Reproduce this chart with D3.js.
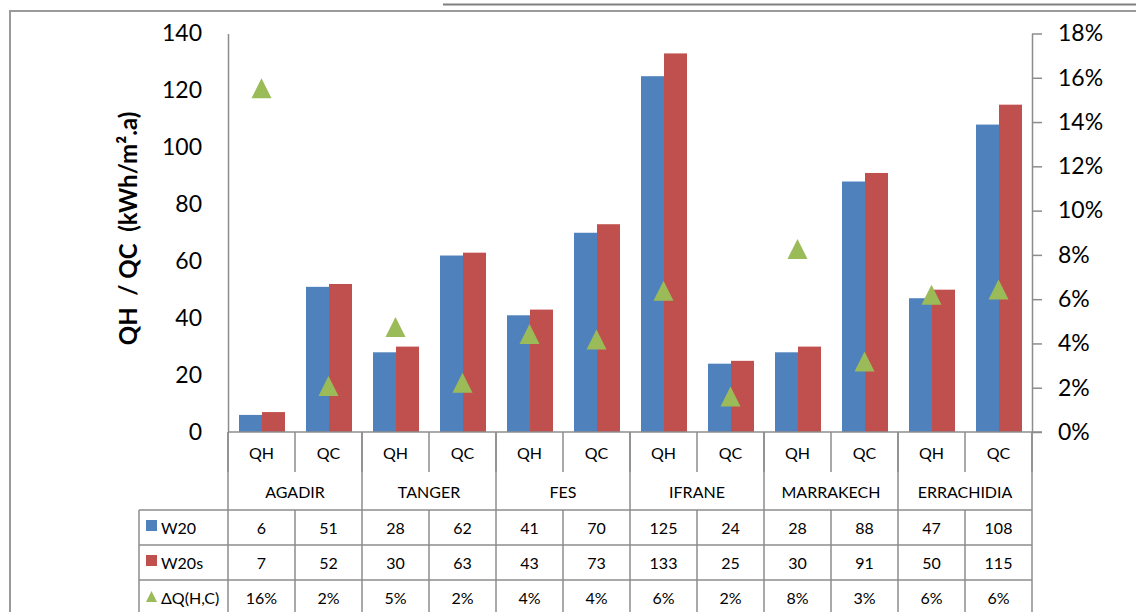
<!DOCTYPE html>
<html>
<head>
<meta charset="utf-8">
<script src="https://cdn.jsdelivr.net/npm/d3@7"></script>
<style>
  html, body { margin: 0; padding: 0; background: #fff; }
  svg { display: block; font-family: Lato, "Open Sans", sans-serif; }
</style>
</head>
<body>
<svg id="chart" width="1136" height="612"></svg>
<script>
// ---- data ----
const cities = ["AGADIR", "TANGER", "FES", "IFRANE", "MARRAKECH", "ERRACHIDIA"];
const loads = ["QH", "QC"];
const seriesNames = ["W20", "W20s"];
const w20 = [6, 51, 28, 62, 41, 70, 125, 24, 28, 88, 47, 108];
const w20s = [7, 52, 30, 63, 43, 73, 133, 25, 30, 91, 50, 115];
const deltaQ = [0.1553, 0.0208, 0.0474, 0.0222, 0.0443, 0.0418, 0.0638, 0.016, 0.0827, 0.0318, 0.062, 0.0644];
const deltaName = "ΔQ(H,C)";
const leftTicks = [0, 20, 40, 60, 80, 100, 120, 140];
const rightTicks = [0, 0.02, 0.04, 0.06, 0.08, 0.10, 0.12, 0.14, 0.16, 0.18];
const yTitle = "QH  / QC  (kWh/m².a)";

// ---- layout ----
const svg = d3.select("#chart");
const W = 1136, H = 612;
const plotL = 228, plotR = 1032, plotT = 33.5, plotB = 432;
const grey = "#8c8c8c";
const blue = "#4f81bd", red = "#c0504d", green = "#9bbb59";
const fontTick = 23, fontTable = 16;

const keys = cities.flatMap(c => loads.map(l => c + "|" + l));
const rows = keys.map((k, i) => ({ key: k, city: k.split("|")[0], load: k.split("|")[1], w20: w20[i], w20s: w20s[i], dq: deltaQ[i] }));

const x = d3.scaleBand().domain(keys).range([plotL, plotR]).padding(0);
const xc = d3.scaleBand().domain(cities).range([plotL, plotR]).padding(0);
const bw = x.bandwidth();
const barW = 23;
const xs = d3.scaleBand().domain(seriesNames).range([(bw - 2 * barW) / 2 + 0.5, (bw + 2 * barW) / 2 + 0.5]);
const y = d3.scaleLinear().domain([0, 140]).range([plotB, plotT]);
const y2 = d3.scaleLinear().domain([0, 0.18]).range([plotB, plotT]);
const pct = d3.format(".0%");

// outer frame & top line
svg.append("rect").attr("x", 10).attr("y", 11).attr("width", W + 20).attr("height", H + 20)
  .attr("fill", "none").attr("stroke", "#9a9a9a").attr("stroke-width", 2);
svg.append("line").attr("x1", 443).attr("x2", W + 5).attr("y1", 4.5).attr("y2", 4.5)
  .attr("stroke", "#808080").attr("stroke-width", 2);

// bars
const gBars = svg.append("g");
const colors = { W20: blue, W20s: red };
rows.forEach(r => {
  seriesNames.forEach(s => {
    const v = s === "W20" ? r.w20 : r.w20s;
    gBars.append("rect")
      .attr("x", x(r.key) + xs(s))
      .attr("width", xs.bandwidth())
      .attr("y", y(v))
      .attr("height", y(0) - y(v))
      .attr("fill", colors[s]);
  });
});

// left axis
const axL = svg.append("g").attr("transform", `translate(${plotL},0)`)
  .call(d3.axisLeft(y).tickValues(leftTicks).tickSize(0).tickSizeOuter(0).tickPadding(26));
axL.select(".domain").attr("stroke", grey).attr("stroke-width", 1.5);
axL.selectAll("text").attr("font-size", fontTick).attr("font-family", "Lato, sans-serif").attr("fill", "#000");

// right axis
const axR = svg.append("g").attr("transform", `translate(${plotR},0)`)
  .call(d3.axisRight(y2).tickValues(rightTicks).tickSize(10).tickSizeOuter(0).tickPadding(16).tickFormat(pct));
axR.select(".domain").attr("stroke", grey).attr("stroke-width", 1.5);
axR.selectAll(".tick line").attr("stroke", grey).attr("stroke-width", 1.5);
axR.selectAll("text").attr("font-size", fontTick).attr("font-family", "Lato, sans-serif").attr("fill", "#000");

// y title
svg.append("text")
  .attr("transform", `translate(137,${(105 + 352) / 2}) rotate(-90)`)
  .attr("text-anchor", "middle")
  .attr("font-size", 24).attr("font-weight", "bold")
  .style("white-space", "pre")
  .text(yTitle);

// triangles
const tri = "M0,-10L10,10L-10,10Z";
svg.append("g").selectAll("path").data(rows).join("path")
  .attr("d", tri)
  .attr("transform", d => `translate(${x(d.key) + bw / 2},${y2(d.dq)})`)
  .attr("fill", green);

// ---- table ----
const gT = svg.append("g");
const line = (x1, y1, x2, y2_) => gT.append("line").attr("x1", x1).attr("y1", y1).attr("x2", x2).attr("y2", y2_)
  .attr("stroke", grey).attr("stroke-width", 1.5);

const rowLoad = [plotB, 472];
const rowCity = [472, 510];
const dataRows = [510, 545, 580, 615];
const legL = 139;

// horizontal category axis line
line(plotL, plotB, plotR + 10, plotB);
// load-row dividers
keys.forEach(k => line(x(k), rowLoad[0], x(k), rowLoad[1]));
line(plotR, rowLoad[0], plotR, rowLoad[1]);
// city dividers
cities.forEach(c => line(xc(c), plotB, xc(c), dataRows[0]));
line(plotR, plotB, plotR, dataRows[0]);
// data table lines
dataRows.slice(0, 3).forEach(yy => line(legL, yy, plotR, yy));
keys.forEach(k => line(x(k), dataRows[0], x(k), H + 5));
line(plotR, dataRows[0], plotR, H + 5);
line(legL, dataRows[0], legL, H + 5);

// load labels
gT.selectAll("text.load").data(rows).join("text").attr("class", "load")
  .attr("x", d => x(d.key) + bw / 2).attr("y", (rowLoad[0] + rowLoad[1]) / 2)
  .attr("text-anchor", "middle").attr("dominant-baseline", "central")
  .attr("font-size", fontTable).text(d => d.load);
// city labels
gT.selectAll("text.city").data(cities).join("text").attr("class", "city")
  .attr("x", d => xc(d) + xc.bandwidth() / 2).attr("y", (rowCity[0] + rowCity[1]) / 2)
  .attr("text-anchor", "middle").attr("dominant-baseline", "central")
  .attr("font-size", fontTable).text(d => d);

// data rows
const tableSeries = [
  { name: "W20", vals: w20, fmt: d => d, sym: "rect", color: blue },
  { name: "W20s", vals: w20s, fmt: d => d, sym: "rect", color: red },
  { name: deltaName, vals: deltaQ, fmt: pct, sym: "tri", color: green }
];
tableSeries.forEach((s, i) => {
  const cy = (dataRows[i] + dataRows[i + 1]) / 2;
  s.vals.forEach((v, j) => {
    gT.append("text").attr("x", x(keys[j]) + bw / 2).attr("y", cy)
      .attr("text-anchor", "middle").attr("dominant-baseline", "central")
      .attr("font-size", fontTable).text(s.fmt(v));
  });
  if (s.sym === "rect") {
    gT.append("rect").attr("x", 146).attr("y", cy - 7.5).attr("width", 11).attr("height", 11).attr("fill", s.color);
  } else {
    gT.append("path").attr("d", "M0,-5.5L5.5,5.5L-5.5,5.5Z").attr("transform", `translate(151.5,${cy - 1})`).attr("fill", s.color);
  }
  gT.append("text").attr("x", 161).attr("y", cy).attr("dominant-baseline", "central")
    .attr("font-size", fontTable).text(s.name);
});
</script>
</body>
</html>
